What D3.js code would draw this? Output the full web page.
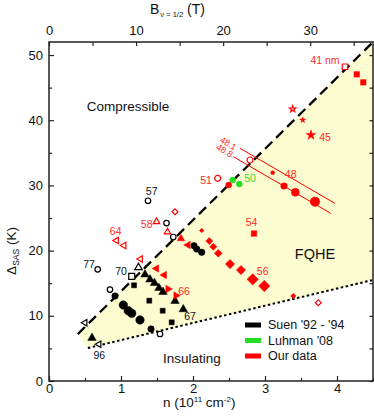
<!DOCTYPE html>
<html>
<head>
<meta charset="utf-8">
<script src="https://cdn.jsdelivr.net/npm/d3@7"></script>
<style>
  body { margin: 0; background: #fff; }
  svg { font-family: Arial, "Liberation Sans", sans-serif; }
</style>
</head>
<body>
<div id="canvas"></div>
<script>
// axes
const nTicks = [0, 1, 2, 3, 4];
const nMinorTicks = [0.5, 1.5, 2.5, 3.5, 4.5];
const deltaTicks = [0, 10, 20, 30, 40, 50];
const deltaMinorTicks = [5, 15, 25, 35, 45];
const bTicks = [0, 10, 20, 30];
const teslaPerN = 8.27; // B at nu=1/2 per 10^11 cm^-2

// phase boundaries [n, delta]
const fqheUpper = [[0.40, 7.2], [4.5, 52]];
const fqheLower = [[0.54, 5.06], [4.5, 15.5]];

// Suen '92 - '94
const suenOpenCircle = [[1.375, 27.65], [0.676, 17.13], [1.632, 24.23], [1.726, 22.09], [0.847, 14.03], [1.542, 7.21]];
const suenCircle = [[0.917, 13.04], [1.417, 7.98], [2.014, 20.75], [2.051, 20.25], [2.121, 19.74]];
const suenCircleBig = [[1.032, 11.66], [1.101, 10.78], [1.149, 10.38], [1.264, 9.36]];
const suenSquare = [[1.181, 14.68], [1.393, 12.32], [1.579, 10.78], [1.704, 9.0]];
const suenOpenSquare = [[1.149, 16.06]];
const suenTriangle = [[1.333, 16.33], [1.403, 15.57], [1.465, 15.03], [1.528, 14.26], [1.583, 13.65], [1.75, 12.27], [1.865, 11.0], [0.597, 6.6]];
const suenOpenTriangle = [[1.243, 17.4]];
const suenOpenTriangleLeft = [[0.5, 8.94], [0.694, 5.63]];

// Luhman '08
const luhmanCircle = [[2.551, 30.83], [2.643, 30.21]];

// our data
const ourOpenCircle = [[2.343, 31.09], [2.792, 33.9]];
const ourCircle = [[2.496, 30.06], [3.107, 31.95], [3.264, 29.91], [3.421, 28.94], [3.694, 27.5]];
const ourOpenTriangle = [[1.493, 24.43], [1.646, 22.85]];
const ourOpenTriangleLeft = [[0.938, 21.55], [1.042, 20.78], [1.271, 18.71]];
const ourTriangle = [[1.833, 21.86]];
const ourTriangleLeft = [[1.931, 20.86], [1.493, 17.25], [1.601, 16.26]];
const ourTriangleRight = [[1.653, 14.11], [1.764, 13.11]];
const ourDiamond = [[2.121, 23.08], [2.226, 21.47], [2.282, 20.6], [2.351, 19.59], [2.514, 17.94], [2.667, 17.02], [2.829, 15.6], [2.99, 14.57], [3.393, 13.04]];
const ourOpenDiamond = [[1.75, 25.97], [3.74, 12.01]];
const ourSquare = [[2.847, 22.62], [4.274, 47.04], [4.365, 45.81]];
const ourOpenSquare = [[4.111, 48.2]];
const ourStar = [[3.524, 40.03], [3.639, 37.73]];
const ourOpenStar = [[3.385, 41.72]];
const line481 = [[2.653, 35.69], [3.972, 27.25]];
const line488 = [[2.56, 34.4], [3.913, 25.72]];

// point labels [text, n, delta, source]
const pointLabels = [
  ["57", 1.426, 29.14, "suen"], ["77", 0.556, 17.9, "suen"], ["70", 1.0, 16.79, "suen"],
  ["67", 1.958, 9.89, "suen"], ["96", 0.699, 3.88, "suen"],
  ["64", 0.926, 22.9, "our"], ["58", 1.357, 24.03, "our"], ["66", 1.875, 13.8, "our"],
  ["51", 2.181, 30.72, "our"], ["54", 2.813, 24.39, "our"], ["56", 2.968, 16.76, "our"],
  ["48", 3.357, 31.7, "our"], ["45", 3.833, 37.42, "our"], ["41 nm", 3.833, 49.13, "our"],
  ["50", 2.792, 31.09, "luhman"]
];
const legendNames = ["Suen '92 - '94", "Luhman '08", "Our data"];

const colors = { suen: "#000000", luhman: "#22dd22", our: "#ff0000" };

// marker series: shape, size (px across), open/filled, rotation
const series = [
  { pts: suenOpenCircle, src: "suen", shape: d3.symbolCircle, size: 5.5, open: true },
  { pts: suenCircle, src: "suen", shape: d3.symbolCircle, size: 6.5 },
  { pts: suenCircleBig, src: "suen", shape: d3.symbolCircle, size: 8.5 },
  { pts: suenSquare, src: "suen", shape: d3.symbolSquare, size: 5 },
  { pts: suenOpenSquare, src: "suen", shape: d3.symbolSquare, size: 6, open: true },
  { pts: suenTriangle, src: "suen", shape: d3.symbolTriangle, size: 8.5 },
  { pts: suenOpenTriangle, src: "suen", shape: d3.symbolTriangle, size: 7.5, open: true },
  { pts: suenOpenTriangleLeft, src: "suen", shape: d3.symbolTriangle, size: 6.5, open: true, rot: -90 },
  { pts: luhmanCircle, src: "luhman", shape: d3.symbolCircle, size: 6 },
  { pts: ourOpenCircle, src: "our", shape: d3.symbolCircle, size: 6, open: true },
  { pts: ourCircle, src: "our", shape: d3.symbolCircle, sizes: [6, 4, 6.5, 8, 9.5] },
  { pts: ourOpenTriangle, src: "our", shape: d3.symbolTriangle, size: 6.5, open: true },
  { pts: ourOpenTriangleLeft, src: "our", shape: d3.symbolTriangle, size: 6.5, open: true, rot: -90 },
  { pts: ourTriangle, src: "our", shape: d3.symbolTriangle, size: 7.5 },
  { pts: ourTriangleLeft, src: "our", shape: d3.symbolTriangle, size: 7.5, rot: -90 },
  { pts: ourTriangleRight, src: "our", shape: d3.symbolTriangle, size: 7.5, rot: 90 },
  { pts: ourDiamond, src: "our", shape: d3.symbolSquare, rot: 45, sizes: [3.2, 5, 5, 5.5, 6.5, 6.5, 8, 8, 3.8] },
  { pts: ourOpenDiamond, src: "our", shape: d3.symbolSquare, size: 4.2, open: true, rot: 45 },
  { pts: ourSquare, src: "our", shape: d3.symbolSquare, size: 5.5 },
  { pts: ourOpenSquare, src: "our", shape: d3.symbolSquare, size: 5.5, open: true },
  { pts: ourStar, src: "our", shape: d3.symbolStar, sizes: [6, 10] },
  { pts: ourOpenStar, src: "our", shape: d3.symbolStar, size: 6.5, open: true }
];

const W = 374, H = 419;
const margin = { top: 42, right: 1, bottom: 38, left: 49 };
const width = W - margin.left - margin.right;
const height = H - margin.top - margin.bottom;

const svg = d3.select("#canvas").append("svg")
  .attr("width", W).attr("height", H);
const g = svg.append("g")
  .attr("transform", "translate(" + margin.left + "," + margin.top + ")");

const x = d3.scaleLinear().domain([0, 4.5]).range([0, width]);
const y = d3.scaleLinear().domain([0, 52]).range([height, 0]);
const xB = d3.scaleLinear().domain([0, 4.5 * teslaPerN]).range([0, width]);

g.append("clipPath").attr("id", "clip")
  .append("rect").attr("width", width).attr("height", height);

const plot = g.append("g").attr("clip-path", "url(#clip)");

// FQHE region
const region = [fqheUpper[0], fqheLower[0], fqheLower[1], fqheUpper[1]];
plot.append("path")
  .attr("d", d3.line().x(d => x(d[0])).y(d => y(d[1]))(region) + "Z")
  .attr("fill", "#fdfbd0");

const line = d3.line().x(d => x(d[0])).y(d => y(d[1]));
plot.append("path").attr("d", line(fqheUpper))
  .attr("stroke", "#000").attr("stroke-width", 2.3).attr("fill", "none")
  .attr("stroke-dasharray", "10,5.5");
plot.append("path").attr("d", line(fqheLower))
  .attr("stroke", "#000").attr("stroke-width", 2).attr("fill", "none")
  .attr("stroke-dasharray", "2.5,2.5");

[line481, line488].forEach(function (l) {
  plot.append("path").attr("d", line(l))
    .attr("stroke", colors.our).attr("stroke-width", 1).attr("fill", "none");
});

// markers
series.forEach(function (s) {
  const c = colors[s.src];
  plot.append("g").selectAll("path")
    .data(s.pts)
    .enter()
    .append("path")
    .attr("d", function (d, i) {
      const px = s.sizes ? s.sizes[i] : s.size;
      let area = px * px;
      if (s.shape === d3.symbolCircle) area = Math.PI * px * px / 4;
      if (s.shape === d3.symbolTriangle) area = px * px * 0.43;
      if (s.shape === d3.symbolStar) area = px * px * 0.3;
      return d3.symbol().type(s.shape).size(area)();
    })
    .attr("transform", d => "translate(" + x(d[0]) + "," + y(d[1]) + ") rotate(" + (s.rot || 0) + ")")
    .attr("fill", s.open ? "#fff" : c)
    .attr("stroke", c)
    .attr("stroke-width", s.open ? 1.2 : 0.5);
});

// point labels
g.append("g").selectAll("text")
  .data(pointLabels)
  .enter()
  .append("text")
  .attr("x", d => x(d[1]))
  .attr("y", d => y(d[2]))
  .attr("dy", "0.35em")
  .attr("text-anchor", "middle")
  .attr("font-size", 10.5)
  .attr("fill", d => d[3] === "our" ? "#ff2a2a" : d[3] === "luhman" ? "#33dd33" : "#111")
  .text(d => d[0]);

// labels on the constant-filling lines
[["48.1", 2.49, 36.46], ["48.8", 2.44, 35.35]].forEach(function (d) {
  g.append("text")
    .attr("transform", "translate(" + x(d[1]) + "," + y(d[2]) + ") rotate(31)")
    .attr("dy", "0.35em").attr("text-anchor", "middle")
    .attr("font-size", 9).attr("fill", "#ff2a2a")
    .text(d[0]);
});

// region names
[["Compressible", 1.097, 42.18], ["FQHE", 3.694, 19.48], ["Insulating", 1.986, 3.53]].forEach(function (d) {
  g.append("text")
    .attr("x", x(d[1])).attr("y", y(d[2])).attr("dy", "0.35em")
    .attr("text-anchor", "middle")
    .attr("font-size", d[0] === "FQHE" ? 14.5 : 13.5)
    .attr("fill", "#111")
    .text(d[0]);
});

// legend
const legend = g.append("g").attr("transform", "translate(196,283)");
legendNames.forEach(function (name, i) {
  const src = ["suen", "luhman", "our"][i];
  legend.append("rect").attr("x", 0).attr("y", i * 15.5 - 2.5)
    .attr("width", 16).attr("height", 5).attr("fill", colors[src]);
  legend.append("text").attr("x", 23).attr("y", i * 15.5).attr("dy", "0.35em")
    .attr("font-size", 12.5).attr("fill", "#111").text(name);
});

// axes
function styleAxis(a) {
  a.select(".domain").remove();
  a.selectAll("line").attr("stroke", "#222").attr("stroke-width", 1.2);
  a.selectAll("text").attr("font-size", 13).attr("fill", "#111")
    .attr("font-family", "Arial, 'Liberation Sans', sans-serif");
}

styleAxis(g.append("g").attr("transform", "translate(0," + height + ")")
  .call(d3.axisBottom(x).tickValues(nTicks).tickSize(-5).tickPadding(3).tickFormat(d3.format("d"))));
styleAxis(g.append("g").attr("transform", "translate(0," + height + ")")
  .call(d3.axisBottom(x).tickValues(nMinorTicks).tickSize(-3).tickFormat("")));

styleAxis(g.append("g")
  .call(d3.axisLeft(y).tickValues(deltaTicks).tickSize(-5).tickPadding(6)));
styleAxis(g.append("g")
  .call(d3.axisLeft(y).tickValues(deltaMinorTicks).tickSize(-3).tickFormat("")));

styleAxis(g.append("g").attr("transform", "translate(" + width + ",0)")
  .call(d3.axisRight(y).tickValues(deltaTicks.concat(deltaMinorTicks)).tickSize(-3.5).tickFormat("")));

styleAxis(g.append("g")
  .call(d3.axisTop(xB).tickValues(bTicks).tickSize(-4).tickPadding(7)));
styleAxis(g.append("g")
  .call(d3.axisTop(xB).tickValues([5, 15, 25, 35]).tickSize(-4).tickFormat("")));

g.append("rect").attr("width", width).attr("height", height)
  .attr("fill", "none").attr("stroke", "#222").attr("stroke-width", 1.5);

// axis titles
const xt = svg.append("text").attr("x", 163).attr("y", 407)
  .attr("font-size", 13.5).attr("fill", "#111");
xt.append("tspan").text("n (10");
xt.append("tspan").attr("font-size", 8).attr("dy", -5).text("11");
xt.append("tspan").attr("dy", 5).text(" cm");
xt.append("tspan").attr("font-size", 8).attr("dy", -5).text("-2");
xt.append("tspan").attr("dy", 5).text(")");

const bt = svg.append("text").attr("x", 150).attr("y", 13.5)
  .attr("font-size", 14).attr("fill", "#111");
bt.append("tspan").text("B");
bt.append("tspan").attr("font-size", 7.5).attr("dy", 3).attr("dx", 1).text("ν = 1/2");
bt.append("tspan").attr("dy", -3).text(" (T)");

const yt = svg.append("text").attr("transform", "translate(16,251) rotate(-90)")
  .attr("text-anchor", "middle").attr("font-size", 13.5).attr("fill", "#111");
yt.append("tspan").text("Δ");
yt.append("tspan").attr("font-size", 8.5).attr("dy", 3).text("SAS");
yt.append("tspan").attr("dy", -3).text(" (K)");
</script>
</body>
</html>
